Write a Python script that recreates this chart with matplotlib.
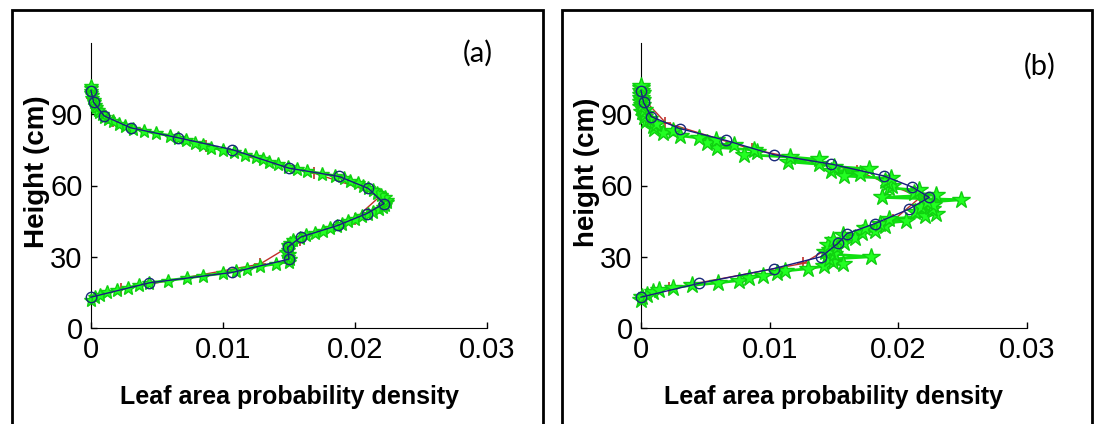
import numpy as np
import matplotlib
matplotlib.use("Agg")
from matplotlib import pyplot as plt
from matplotlib.patches import Rectangle

# ---- data (height in cm, leaf area density) ----
# panel (a)
blueH_a = [13, 19, 23.4, 29, 34, 38.3, 43.2, 48.2, 52.4, 58.8, 63.8, 67.3, 75.1, 80.1, 84.3, 89.3, 95, 100]
blueX_a = [0.0, 0.0044, 0.0107, 0.0150, 0.0149, 0.0159, 0.0187, 0.0209, 0.0222, 0.0210, 0.0188, 0.0150,
           0.0107, 0.0066, 0.0030, 0.0010, 0.0002, 0.0]
redH_a = [16.3, 26.9, 37, 46, 56, 65.2, 76.5, 87, 97]
redX_a = [0.0023, 0.0128, 0.0158, 0.0200, 0.0220, 0.0169, 0.0087, 0.0017, 0.0001]
greenH_a = list(range(12, 103))
greenX_a = [0.0000, 0.0003, 0.0007, 0.0012, 0.0020, 0.0028, 0.0036, 0.0044, 0.0058, 0.0073,
            0.0085, 0.0100, 0.0110, 0.0118, 0.0128, 0.0140, 0.0150, 0.0151, 0.0149, 0.0150,
            0.0148, 0.0149, 0.0150, 0.0149, 0.0151, 0.0153, 0.0158, 0.0163, 0.0170, 0.0176,
            0.0181, 0.0186, 0.0190, 0.0195, 0.0200, 0.0205, 0.0210, 0.0214, 0.0218, 0.0221,
            0.0223, 0.0224, 0.0224, 0.0223, 0.0220, 0.0217, 0.0214, 0.0210, 0.0206, 0.0202,
            0.0196, 0.0192, 0.0185, 0.0175, 0.0164, 0.0156, 0.0149, 0.0142, 0.0135, 0.0130,
            0.0125, 0.0117, 0.0108, 0.0100, 0.0091, 0.0085, 0.0079, 0.0072, 0.0066, 0.0060,
            0.0049, 0.0040, 0.0032, 0.0026, 0.0021, 0.0017, 0.0013, 0.0010, 0.0008, 0.0006,
            0.0005, 0.0004, 0.0003, 0.0002, 0.0002, 0.0001, 0.0001, 0.0000, 0.0000, 0.0000,
            0.0000]

# panel (b)
blueH_b = [13, 18.8, 25, 30, 35.6, 39.7, 44, 50, 55, 59.3, 64, 69, 73, 79, 84, 89, 95, 100]
blueX_b = [0.0, 0.0045, 0.0103, 0.0140, 0.0153, 0.0160, 0.0182, 0.0208, 0.0224, 0.0211, 0.0189, 0.0148,
           0.0103, 0.0066, 0.0030, 0.0008, 0.0002, 0.0]
redH_b = [16.7, 27.2, 35.6, 45.3, 55, 66.2, 75.3, 86.5, 97]
redX_b = [0.0022, 0.0126, 0.0152, 0.0196, 0.0217, 0.0168, 0.0086, 0.0019, 0.0001]
greenH_b = list(range(12, 103))
greenX_b = [0.0000, 0.0001, 0.0005, 0.0009, 0.0014, 0.0025, 0.0040, 0.0060, 0.0076, 0.0084,
            0.0095, 0.0106, 0.0112, 0.0130, 0.0142, 0.0157, 0.0149, 0.0146, 0.0179, 0.0150,
            0.0143, 0.0147, 0.0152, 0.0145, 0.0158, 0.0149, 0.0166, 0.0157, 0.0172, 0.0182,
            0.0174, 0.0190, 0.0186, 0.0206, 0.0193, 0.0221, 0.0229, 0.0213, 0.0226, 0.0218,
            0.0227, 0.0222, 0.0249, 0.0187, 0.0229, 0.0212, 0.0216, 0.0193, 0.0195, 0.0192,
            0.0190, 0.0194, 0.0158, 0.0170, 0.0148, 0.0177, 0.0150, 0.0138, 0.0114, 0.0138,
            0.0116, 0.0080, 0.0090, 0.0088, 0.0059, 0.0072, 0.0051, 0.0058, 0.0045, 0.0030,
            0.0017, 0.0025, 0.0010, 0.0009, 0.0012, 0.0004, 0.0006, 0.0002, 0.0003, 0.0001,
            0.0002, 0.0000, 0.0001, 0.0000, 0.0001, 0.0000, 0.0000, 0.0001, 0.0000, 0.0000,
            0.0000]

xticks = [0, 0.01, 0.02, 0.03]
xticklabels = ["0", "0.01", "0.02", "0.03"]
yticks = [0, 30, 60, 90]
panel_tags = ["(a)", "(b)"]
ylabels = ["Height (cm)", "height (cm)"]
xlabel = "Leaf area probability density"

plt.rcParams['font.family'] = ['Liberation Sans', 'DejaVu Sans']

W, H = 1097, 424
fig = plt.figure(figsize=(W / 100, H / 100), dpi=100)

# panel frames (pixels -> figure fraction)
for x0, x1 in [(12, 543), (562, 1092)]:
    fig.patches.append(Rectangle((x0 / W, -0.1), (x1 - x0) / W, 1.1 - 10 / H,
                                 transform=fig.transFigure, fill=False, lw=2, ec='black'))

axpos = [(91, 487), (641, 1027)]
panels = [(blueH_a, blueX_a, redH_a, redX_a, greenH_a, greenX_a, 10),
          (blueH_b, blueX_b, redH_b, redX_b, greenH_b, greenX_b, 13)]
tagpos = [(478, 53), (1040, 66)]

for i, (bh, bx, rh, rx, gh, gx, gms) in enumerate(panels):
    l, r = axpos[i]
    ax = fig.add_axes([l / W, (H - 328) / H, (r - l) / W, 285 / H])
    ax.plot(rx, rh, '-+', color='#c0302a', lw=1, ms=9, mew=1.2, zorder=2, clip_on=False)
    ax.plot(gx, gh, '-*', color='#10e010', mfc='#22ff22', mec='#10d010', lw=2, ms=gms,
            zorder=3, clip_on=False)
    ax.plot(bx, bh, '-o', color='#1a1a80', mfc='none', mec='#1a2a7a', lw=1, ms=7.5, mew=1,
            zorder=4, clip_on=False)

    ax.set_xlim(0, 0.03)
    ax.set_ylim(0, 120)
    ax.set_xticks(xticks)
    ax.set_xticklabels(xticklabels)
    ax.set_yticks(yticks)
    ax.tick_params(direction='in', length=4, width=1, labelsize=21, pad=6)
    ax.spines['top'].set_visible(False)
    ax.spines['right'].set_visible(False)
    ax.set_xlabel(xlabel, fontsize=18, fontweight='bold')
    ax.xaxis.set_label_coords(0.5, (328 - 385) / 285)
    ax.set_ylabel(ylabels[i], fontsize=20, fontweight='bold', va='center')
    ax.yaxis.set_label_coords(-54 / (r - l), (328 - 172) / 285)

    tx, ty = tagpos[i]
    fig.text(tx / W, 1 - ty / H, panel_tags[i], fontsize=21, family=['Lato', 'DejaVu Sans'],
             ha='center', va='center')

fig.savefig('out.png', dpi=100)
